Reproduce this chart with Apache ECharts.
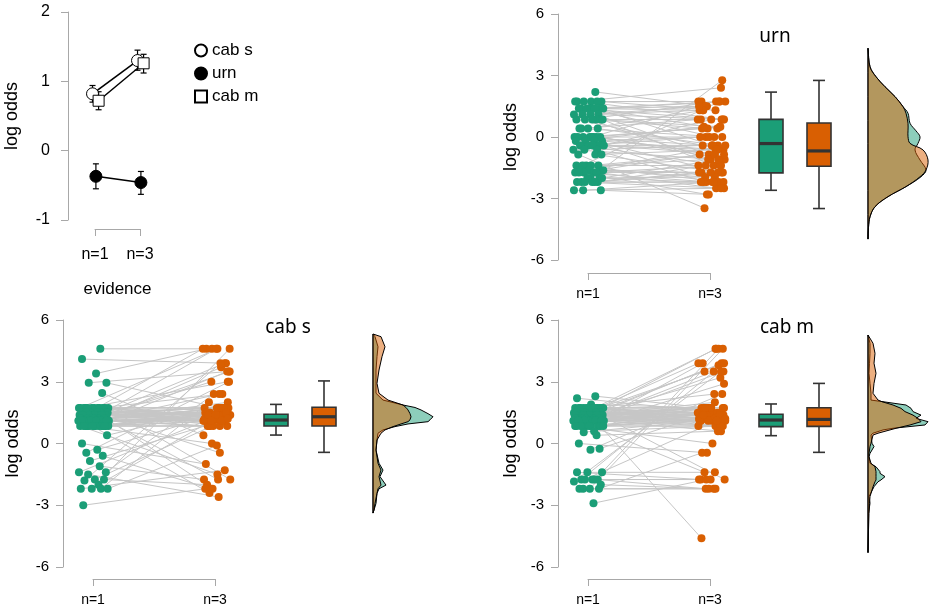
<!DOCTYPE html>
<html>
<head>
<meta charset="utf-8">
<script src="https://cdn.jsdelivr.net/npm/echarts@6.0.0/dist/echarts.min.js"></script>
<style>
html, body { margin: 0; padding: 0; background: #fff; }
#main { width: 935px; height: 611px; }
</style>
</head>
<body>
<div id="main"></div>
<script>
// ---- data ----
var evidence = ['n=1', 'n=3'];
var groups = ['cab s', 'urn', 'cab m'];

// panel 1: means and error bars
var meanN1 = [0.82, -0.37, 0.72];
var meanN3 = [1.30, -0.46, 1.26];
var lowN1 = [0.70, -0.55, 0.59];
var highN1 = [0.94, -0.19, 0.85];
var lowN3 = [1.16, -0.63, 1.12];
var highN3 = [1.45, -0.30, 1.39];

// horizontal jitter of the dots (axis units)
var jit1 = [0.12,-0.18,0.05,0.22,-0.07,0.15,-0.21,0.02,0.19,-0.12,
  0.08,-0.02,0.25,-0.15,0.11,-0.09,0.17,-0.23,0.04,0.21,
  -0.05,0.13,-0.19,0.07,0.24,-0.11,0.00,0.16,-0.14,0.09,
  -0.22,0.03,0.20,-0.08,0.14,-0.17,0.06,0.23,-0.04,0.10,
  -0.20,0.18,-0.10,0.01,0.26,-0.13,0.08,-0.24,0.15,-0.06,
  0.12,-0.16,0.22,-0.03,0.05,-0.19,0.17,-0.09,0.20,-0.12,
  0.02,0.25,-0.21,0.10,-0.07,0.14,-0.15,0.04,0.19,-0.01,
  0.23,-0.18,0.07,-0.11,0.16,-0.05,0.11,-0.23,0.21,-0.08,
  0.03,0.18,-0.14,0.09,-0.20,0.13,-0.02,0.24,-0.16,0.06];
var jit3 = [-0.05,0.18,-0.14,0.09,0.23,-0.19,0.04,0.15,-0.09,0.21,
  -0.12,0.07,0.25,-0.02,0.12,-0.17,0.19,0.01,-0.08,0.16,
  0.10,-0.15,0.22,-0.04,0.06,0.20,-0.11,0.13,-0.20,0.17,
  0.03,-0.07,0.24,-0.13,0.08,0.14,-0.18,0.11,-0.01,0.21,
  -0.10,0.05,0.18,-0.16,0.23,-0.06,0.09,0.15,-0.12,0.02,
  0.19,-0.09,0.12,-0.19,0.07,0.22,-0.03,0.16,-0.14,0.10,
  0.25,-0.08,0.04,0.17,-0.17,0.13,-0.05,0.20,-0.11,0.08,
  0.14,-0.15,0.01,0.23,-0.07,0.11,-0.18,0.18,-0.02,0.06,
  0.21,-0.13,0.09,-0.06,0.16,-0.10,0.24,0.03,-0.16,0.12];

// urn: log odds per participant at n=1 and n=3 (same index = same participant)
var urn1 = [2.2, 1.73,1.73,1.73,1.73,1.73,1.73, 1.39,1.39,1.39,1.39,1.39,1.39,1.39,1.39,
  1.1,1.1,1.1,1.1, 0.85,0.85,0.85,0.85,0.85,0.85, 0.41,0.41,0.41,0.41,
  0,0,0,0,0,0,0,0, -0.2,-0.2,-0.2,-0.2, -0.41,-0.41,-0.41,-0.41,-0.41,-0.41,
  -0.62,-0.62,-0.62, -0.85,-0.85,-0.85, -1.39,-1.39,-1.39,-1.39,-1.39,
  -1.62,-1.62,-1.62,-1.62, -1.73,-1.73,-1.73,-1.73,-1.73, -2.0,-2.0,-2.0,-2.0,
  -2.2,-2.2,-2.2,-2.2,-2.2,-2.2, -2.6,-2.6,-2.6];
var urn3 = [1.5, 2.4,1.73,1.3,0.85,1.73,-0.41, 1.73,1.5,0.85,1.3,0,1.73,-0.85,0.41,
  1.3,0.85,-1.1,1.5, 0.5,1.73,0.85,-0.62,0.41,-1.39, 0,1.3,-0.41,0.85,
  0.5,-0.41,0,-1.1,0.41,-0.85,-2.2,1.5, -0.62,0,-1.73,0.5, -0.41,-1.39,0,-0.85,-2.2,-0.62,
  -1.1,-0.41,0.85, -1.73,-3.47,-0.62, -1.39,-0.85,-2.2,-1.1,1.73,
  -1.73,-2.5,-0.41,-1.95, -2.2,-1.39,-0.85,-1.73,-2.8, 2.77,-2.2,-1.95,-1.1,
  -2.2,-1.73,-2.5,-1.39,-2.2,-1.73, -2.5,-2.8,-2.2];

// cab s
var cabS1 = [4.6, 4.1, 3.4, 2.95, 2.95, 2.45,
  1.73,1.73,1.73,1.73,1.73,1.73,1.73,1.73,1.73,1.73,1.73,1.73,
  1.5,1.5,1.5,1.5,1.5,1.5,1.5,1.5,
  1.39,1.39,1.39,1.39,1.39,1.39,1.39,1.39,1.39,1.39,
  1.2,1.2,1.2,1.2,1.2,1.2,1.2,1.2,
  1.1,1.1,1.1,1.1,1.1,1.1,1.1,1.1,1.1,1.1,1.1,1.1,
  0.85,0.85,0.85,0.85,0.85,0.85,0.85,0.85,0.85,0.85,0.85,0.85,0.85,0.85,
  0.4,0,-0.3,-0.45,-0.6,-0.85,-1.1,-1.4,-1.4,-1.5,-1.75,-1.75,-1.8,-2.0,-2.2,-2.2,-2.2,-2.2,-3.0];
var cabS3 = [4.6, 3.9, 4.6, 1.73, 3.5, 0.4,
  4.6,1.73,1.5,3.0,1.39,1.73,-1.75,1.1,2.4,1.73,1.2,1.39,
  1.5,3.9,1.73,1.1,1.39,-2.2,1.73,0.85,
  1.39,1.5,4.6,1.2,1.73,1.1,3.5,1.39,-0.45,1.5,
  1.1,1.73,1.39,2.0,0.85,-1.75,1.2,1.5,
  1.39,3.0,1.1,1.73,0.85,4.6,1.2,-2.4,1.39,1.1,2.4,1.73,
  0.85,1.1,1.5,3.7,1.39,0.85,-1.5,1.73,1.2,1.1,0,3.5,1.39,0.85,
  1.73,-1.0,1.39,3.0,-2.2,1.1,-1.75,1.5,2.4,-2.6,1.2,-2.0,3.9,1.1,-1.3,2.0,4.6,-0.1,-2.2];

// cab m
var cabM1 = [2.3, 2.2, 1.9,
  1.73,1.73,1.73,1.73,1.73,1.73,1.73,1.73,1.73,1.73,1.73,1.73,
  1.5,1.5,1.5,1.5,1.5,1.5,1.5,1.5,
  1.39,1.39,1.39,1.39,1.39,1.39,1.39,1.39,1.39,1.39,1.39,1.39,
  1.2,1.2,1.2,1.2,1.2,1.2,1.2,1.2,
  1.1,1.1,1.1,1.1,1.1,1.1,1.1,1.1,1.1,1.1,
  0.85,0.85,0.85,0.85,0.85,0.85,0.85,0.85,0.85,0.85,
  0.6,0.55,0.4,0.0,-0.3,-0.25,
  -1.4,-1.4,-1.4, -1.75,-1.75,-1.75,-1.75,-1.75, -1.85, -2.0, -2.2,-2.2,-2.2,-2.2, -2.9];
var cabM3 = [1.73, 1.5, 1.73,
  4.6,1.73,3.9,1.5,1.39,3.5,1.73,1.2,2.4,1.1,1.73,0.85,
  1.39,3.9,1.73,1.2,1.5,4.6,1.1,1.39,
  1.73,3.5,1.2,1.39,0.85,1.5,3.2,1.1,1.73,-1.75,1.39,2.0,
  3.8,1.2,1.1,1.5,0.85,1.73,1.39,0.6,
  1.1,2.9,1.39,0.85,1.2,3.9,1.73,1.1,-1.4,1.5,
  0.85,1.2,3.5,1.1,1.39,-4.6,0.85,1.2,1.73,0,
  0.85,1.1,0.6,-0.45,2.4,1.39,
  -1.4,4.6,-1.75,
  -1.75,3.9,-2.2,1.1,-1.75,
  3.5, -2.2, -2.2,4.6,-0.45,-2.2, -1.75];

// box plots: [min, q1, median, q3, max] for n=1 and n=3
var urnBox = [[-2.60, -1.75, -0.32, 0.86, 2.19], [-3.49, -1.43, -0.68, 0.68, 2.76]];
var cabSBox = [[0.41, 0.85, 1.14, 1.42, 1.90], [-0.43, 0.85, 1.30, 1.76, 3.04]];
var cabMBox = [[0.38, 0.82, 1.14, 1.42, 1.92], [-0.43, 0.83, 1.17, 1.74, 2.92]];

// densities: log-odds levels and relative density at n=1 (green) and n=3 (orange)
var urnDensY = [4.33, 3.43, 2.94, 2.45, 1.97, 1.48, 1.16, 0.67, 0.30, 0.01, -0.31, -0.63, -1.12, -1.61, -1.94, -2.42, -2.91, -3.40, -3.89, -4.40, -4.98];
var urnDens1 = [0, 2, 8, 17, 27, 35, 40, 42, 48, 52, 50, 47, 52, 58, 53, 38, 20, 7, 2, 0.5, 0];
var urnDens3 = [0, 2, 8, 17, 27, 35, 38, 40, 40, 40, 42, 55, 60, 58, 52, 38, 20, 7, 2, 0.5, 0];

var cabSDensY = [5.32, 5.19, 4.70, 4.22, 3.57, 2.92, 2.44, 2.11, 1.87, 1.75, 1.63, 1.45, 1.30, 1.15, 1.06, 0.95, 0.82, 0.66, 0.50, 0.17, -0.32, -0.96, -1.29, -1.61, -2.02, -2.20, -2.42, -2.91, -3.23, -3.38];
var cabSDens1 = [0, 2, 5, 4, 3, 3, 3, 10, 30, 42, 48, 55, 60, 57, 55, 35, 22, 10, 5, 4, 3, 6, 10, 7, 13, 6, 4, 3, 1, 0];
var cabSDens3 = [0, 8, 12, 9, 6, 4, 6, 15, 30, 33, 35, 37, 38, 37, 35, 28, 20, 12, 8, 4, 3, 5, 8, 6, 8, 5, 4, 2, 1, 0];

var cabMDensY = [5.27, 4.87, 4.38, 3.90, 3.41, 2.92, 2.44, 2.11, 2.03, 1.87, 1.71, 1.55, 1.38, 1.22, 1.06, 0.90, 0.74, 0.66, 0.50, 0.41, 0.01, -0.15, -0.48, -0.64, -0.96, -1.13, -1.37, -1.45, -1.61, -1.77, -1.86, -2.10, -2.58, -2.91, -3.39, -4.20, -5.30];
var cabMDens1 = [0, 2, 2, 1.5, 1, 2, 3, 3, 15, 38, 43, 45, 53, 48, 60, 57, 25, 15, 5, 3, 4, 6, 2, 1, 2, 8, 12, 12, 17, 13, 10, 6, 1, 2, 0.5, 0.5, 0];
var cabMDens3 = [0, 5, 7, 6, 8, 6, 5, 10, 14, 25, 33, 37, 45, 50, 53, 42, 28, 22, 10, 5, 3, 2, 1, 1, 3, 7, 8, 8, 8, 8, 7, 5, 2, 1.5, 1, 0.5, 0];

// ---- styling ----
var FONT = "'Liberation Sans', Arial, sans-serif";
var GRAY = '#a8a8a8';
var GREEN = '#1b9e77';
var ORANGE = '#d95f02';

var grids = [], xAxes = [], yAxes = [], series = [];
function addGrid(g, xa, ya) {
  var i = grids.length;
  grids.push(g);
  xa.gridIndex = i; ya.gridIndex = i;
  xAxes.push(xa); yAxes.push(ya);
  return i;
}
function bracketAxis(fontSize, offset, margin) {
  return {
    type: 'value', min: 0, max: 2, interval: 2, offset: offset,
    splitLine: { show: false },
    axisLine: { show: true, onZero: false, lineStyle: { color: GRAY, width: 1 } },
    axisTick: { show: true, length: 7, lineStyle: { color: GRAY } },
    axisLabel: { fontSize: fontSize, color: '#000', fontFamily: FONT, margin: margin,
      formatter: function (v) { return evidence[v / 2]; } }
  };
}
function oddsAxis(min, max, interval, fontSize, offset, margin, nameGap) {
  return {
    type: 'value', min: min, max: max, interval: interval, offset: offset,
    name: 'log odds', nameLocation: 'middle', nameGap: nameGap, nameRotate: 90,
    nameTextStyle: { fontSize: 18, color: '#000', fontFamily: FONT },
    splitLine: { show: false },
    axisLine: { show: true, onZero: false, lineStyle: { color: GRAY, width: 1 } },
    axisTick: { show: true, length: 7, lineStyle: { color: GRAY } },
    axisLabel: { fontSize: fontSize, color: '#000', fontFamily: FONT, margin: margin }
  };
}
function hiddenAxis(extra) {
  return Object.assign({ type: 'value', show: false, splitLine: { show: false } }, extra);
}

function renderErr(params, api) {
  var x = api.value(0);
  var lo = api.coord([x, api.value(1)]);
  var hi = api.coord([x, api.value(2)]);
  var c = 3, st = { stroke: '#000', lineWidth: 1.2 };
  return { type: 'group', children: [
    { type: 'line', shape: { x1: lo[0], y1: lo[1], x2: hi[0], y2: hi[1] }, style: st },
    { type: 'line', shape: { x1: lo[0] - c, y1: lo[1], x2: lo[0] + c, y2: lo[1] }, style: st },
    { type: 'line', shape: { x1: hi[0] - c, y1: hi[1], x2: hi[0] + c, y2: hi[1] }, style: st }
  ] };
}
function renderLink(params, api) {
  var a = api.coord([api.value(0), api.value(1)]);
  var b = api.coord([api.value(2), api.value(3)]);
  return { type: 'line', shape: { x1: a[0], y1: a[1], x2: b[0], y2: b[1] },
    style: { stroke: '#c6c6c6', lineWidth: 1 } };
}
var boxFill = [GREEN, ORANGE];
function renderBox(params, api) {
  var i = api.value(0);
  var half = api.size([1, 0])[0] * 0.25;
  var p = [1, 2, 3, 4, 5].map(function (d) { return api.coord([i, api.value(d)]); });
  var cx = p[0][0], ink = '#333333';
  var st = { stroke: ink, lineWidth: 1.6 };
  return { type: 'group', children: [
    { type: 'line', shape: { x1: cx, y1: p[0][1], x2: cx, y2: p[1][1] }, style: st },
    { type: 'line', shape: { x1: cx, y1: p[3][1], x2: cx, y2: p[4][1] }, style: st },
    { type: 'line', shape: { x1: cx - half / 2, y1: p[0][1], x2: cx + half / 2, y2: p[0][1] }, style: st },
    { type: 'line', shape: { x1: cx - half / 2, y1: p[4][1], x2: cx + half / 2, y2: p[4][1] }, style: st },
    { type: 'rect', shape: { x: cx - half, y: p[3][1], width: 2 * half, height: p[1][1] - p[3][1] },
      style: { fill: boxFill[params.dataIndex], stroke: ink, lineWidth: 1.6 } },
    { type: 'line', shape: { x1: cx - half, y1: p[2][1], x2: cx + half, y2: p[2][1] },
      style: { stroke: ink, lineWidth: 3.2 } }
  ] };
}
function densityRenderer(ys, ws, smooth) {
  return function (params, api) {
    var pts = [api.coord([0, ys[0]])];
    for (var i = 0; i < ys.length; i++) pts.push(api.coord([ws[i], ys[i]]));
    pts.push(api.coord([0, ys[ys.length - 1]]));
    var fill = params.seriesName === 'n=1' ? 'rgba(27,158,119,0.5)' : 'rgba(217,95,2,0.5)';
    return { type: 'polygon', shape: { points: pts, smooth: smooth },
      style: { fill: fill, stroke: '#000', lineWidth: 1 } };
  };
}

// ---- panel 1: means ----
var g0 = addGrid({ left: 95, top: 12, width: 45, height: 208 },
  Object.assign(bracketAxis(16, 9, 18), { name: 'evidence', nameLocation: 'middle', nameGap: 52,
    nameTextStyle: { fontSize: 17, color: '#000', fontFamily: FONT } }),
  oddsAxis(-1, 2, 1, 16, 27, 18, 47));
var dodge = [-0.11, 0.04, 0.16];
var marker = [['circle', 12, '#ffffff'], ['circle', 12, '#000000'], ['rect', 11, '#ffffff']];
groups.forEach(function (g, k) {
  series.push({
    type: 'custom', xAxisIndex: g0, yAxisIndex: g0, z: 2,
    data: [[0 + dodge[k], lowN1[k], highN1[k]], [2 + dodge[k], lowN3[k], highN3[k]]],
    renderItem: renderErr
  });
  series.push({
    type: 'line', name: g, xAxisIndex: g0, yAxisIndex: g0, z: 3, clip: false,
    data: [[0 + dodge[k], meanN1[k]], [2 + dodge[k], meanN3[k]]],
    symbol: marker[k][0], symbolSize: marker[k][1],
    itemStyle: { color: marker[k][2], borderColor: '#000', borderWidth: 1 },
    lineStyle: { color: '#000', width: 1.5 }
  });
});

// ---- raincloud panels ----
function raincloud(pos, v1, v3, box, densY, dens1, dens3, smooth) {
  var yr = { min: -6, max: 6 };
  var gs = addGrid({ left: pos.left, top: pos.top, width: 122, height: pos.height },
    bracketAxis(14, pos.xOffset, 14),
    oddsAxis(-6, 6, 3, 15, 30, 14, pos.nameGap));
  series.push({
    type: 'custom', xAxisIndex: gs, yAxisIndex: gs, z: 1,
    data: v1.map(function (v, i) { return [jit1[i], v, 2 + jit3[i], v3[i]]; }),
    renderItem: renderLink
  });
  series.push({
    type: 'scatter', xAxisIndex: gs, yAxisIndex: gs, z: 3, clip: false,
    symbolSize: 8, itemStyle: { color: GREEN, opacity: 1 },
    data: v1.map(function (v, i) { return [jit1[i], v]; })
  });
  series.push({
    type: 'scatter', xAxisIndex: gs, yAxisIndex: gs, z: 3, clip: false,
    symbolSize: 8, itemStyle: { color: ORANGE, opacity: 1 },
    data: v3.map(function (v, i) { return [2 + jit3[i], v]; })
  });
  var gb = addGrid({ left: pos.boxLeft, top: pos.top, width: 96, height: pos.height },
    { type: 'category', show: false, data: evidence },
    hiddenAxis(yr));
  series.push({
    type: 'custom', xAxisIndex: gb, yAxisIndex: gb, z: 3,
    data: box.map(function (b, i) { return [i].concat(b); }),
    renderItem: renderBox
  });
  var gd = addGrid({ left: pos.densLeft, top: pos.top, width: 62, height: pos.height },
    hiddenAxis({ min: 0, max: 62 }), hiddenAxis(yr));
  series.push({
    type: 'custom', name: 'n=1', xAxisIndex: gd, yAxisIndex: gd, z: 2,
    data: [[0, 0]], renderItem: densityRenderer(densY, dens1, smooth)
  });
  series.push({
    type: 'custom', name: 'n=3', xAxisIndex: gd, yAxisIndex: gd, z: 3,
    data: [[0, 0]], renderItem: densityRenderer(densY, dens3, smooth)
  });
}
raincloud({ left: 588, top: 14, height: 246, xOffset: 13, boxLeft: 747, densLeft: 868, nameGap: 38 },
  urn1, urn3, urnBox, urnDensY, urnDens1, urnDens3, 0.35);
raincloud({ left: 93, top: 320, height: 247, xOffset: 12, boxLeft: 252, densLeft: 373, nameGap: 41 },
  cabS1, cabS3, cabSBox, cabSDensY, cabSDens1, cabSDens3, 0);
raincloud({ left: 588, top: 320, height: 247, xOffset: 12, boxLeft: 747, densLeft: 868, nameGap: 38 },
  cabM1, cabM3, cabMBox, cabMDensY, cabMDens1, cabMDens3, 0);

var titleStyle = { fontSize: 19, fontWeight: 'normal', color: '#000', fontFamily: "'Noto Sans', 'Liberation Sans', sans-serif" };

var myChart = echarts.init(document.getElementById('main'));
myChart.setOption({
  animation: false,
  backgroundColor: '#ffffff',
  title: [
    { text: 'urn', left: 770, top: 22, textAlign: 'center', textStyle: titleStyle },
    { text: 'cab s', left: 283, top: 313, textAlign: 'center', textStyle: titleStyle },
    { text: 'cab m', left: 782, top: 313, textAlign: 'center', textStyle: titleStyle }
  ],
  legend: {
    data: groups.map(function (g, k) { return { name: g, icon: k === 2 ? 'rect' : 'circle' }; }),
    orient: 'vertical', left: 189, top: 37, itemWidth: 12, itemHeight: 12, itemGap: 6,
    selectedMode: false,
    textStyle: { fontSize: 17, color: '#000', fontFamily: FONT }
  },
  grid: grids,
  xAxis: xAxes,
  yAxis: yAxes,
  series: series
});
</script>
</body>
</html>
